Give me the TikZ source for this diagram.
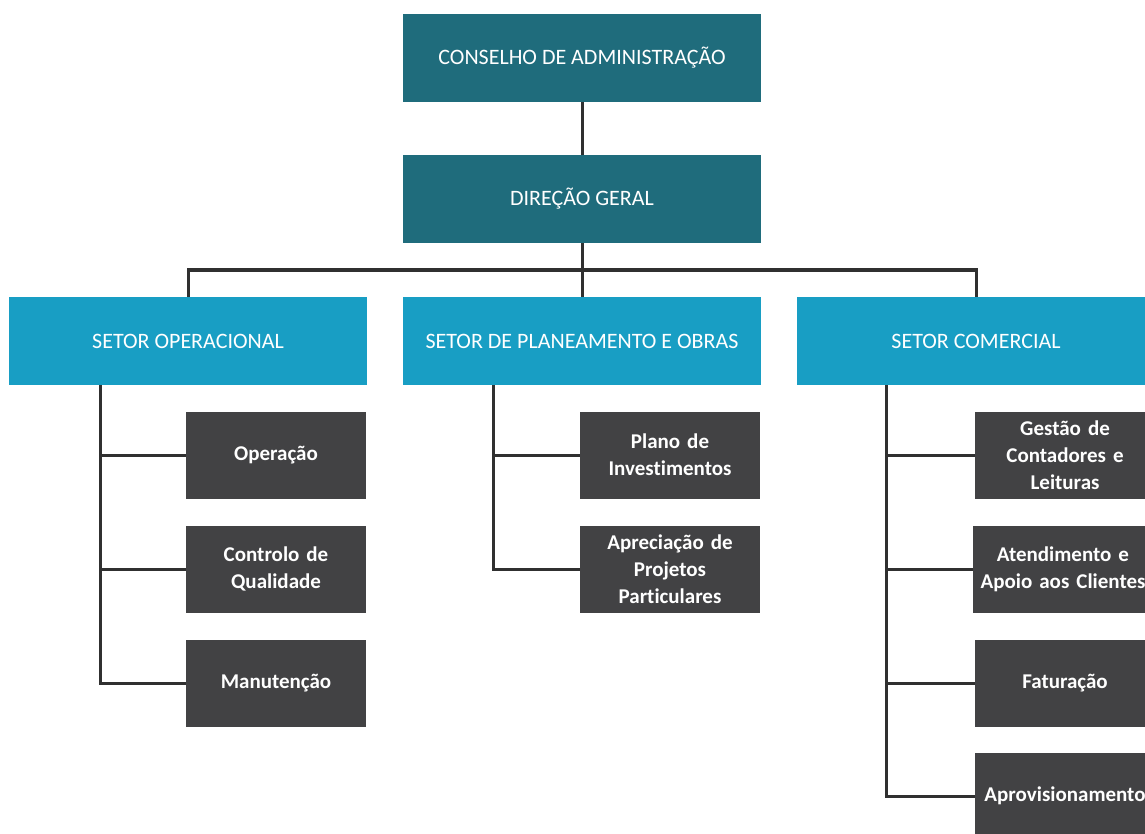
\documentclass[tikz,border=0pt]{standalone}
\usepackage{fontspec}
\setmainfont[Ligatures=NoCommon]{Carlito}
\usetikzlibrary{calc}
\definecolor{topTeal}{RGB}{31,108,124}
\definecolor{setorBlue}{RGB}{24,158,196}
\definecolor{subGray}{RGB}{66,66,68}
\definecolor{lineDark}{RGB}{48,48,48}
\tikzset{
  topbox/.style={fill=topTeal,text=white,minimum width=358pt,minimum height=88pt,
    inner sep=0pt,font=\fontsize{22}{27}\selectfont},
  setorbox/.style={topbox,fill=setorBlue},
  subbox/.style={fill=subGray,text=white,minimum width=180pt,minimum height=87pt,
    inner sep=0pt,text width=178pt,align=center,font=\fontsize{21}{27}\selectfont\bfseries},
  ligacao/.style={draw=lineDark,line width=3pt},
}

\begin{document}
\begin{tikzpicture}[x=1pt,y=-1pt]
                \clip (0,0) rectangle (1145,834);
                \fill[white] (0,0) rectangle (1145,834);
                % topo
                \node[topbox] (CA) at (582,58) {CONSELHO DE ADMINISTRAÇÃO};
                \node[topbox] (DG) at (582,199) {DIREÇÃO GERAL};
                % setores
                \node[setorbox] (SO) at (188,341) {SETOR OPERACIONAL};
                \node[setorbox] (SP) at (582,341) {SETOR DE PLANEAMENTO E OBRAS};
                \node[setorbox] (SC) at (976,341) {SETOR COMERCIAL};
                % setor operacional
                \node[subbox] (Op) at (276,455) {Operação};
                \node[subbox] (CQ) at (276,569) {Controlo de\\Qualidade};
                \node[subbox] (Mn) at (276,683) {Manutenção};
                % setor de planeamento e obras
                \node[subbox] (PI) at (670,455) {Plano de\\Investimentos};
                \node[subbox] (AP) at (670,569) {Apreciação de\\Projetos\\Particulares};
                % setor comercial
                \node[subbox] (GC) at (1065,455) {Gestão de\\Contadores e\\Leituras};
                \node[subbox] (AC) at (1063,569) {Atendimento e\\Apoio aos Clientes};
                \node[subbox] (Ft) at (1065,683) {Faturação};
                \node[subbox] (Ap) at (1065,796) {Aprovisionamento};
                % ligacoes
                \coordinate (bar) at (582,270);
                \coordinate (sO) at (100,385);
                \coordinate (sP) at (493,385);
                \coordinate (sC) at (886,385);
                \draw[ligacao] (CA.south) -- (DG.north);
                \draw[ligacao] (DG.south) -- (bar);
                \draw[ligacao] (SO.north) |- (bar) -| (SC.north);
                \draw[ligacao] (bar) -- (SP.north);
                \draw[ligacao] (sO) |- (Mn.west);
                \draw[ligacao] (sO |- Op.west) -- (Op.west);
                \draw[ligacao] (sO |- CQ.west) -- (CQ.west);
                \draw[ligacao] (sP) |- (AP.west);
                \draw[ligacao] (sP |- PI.west) -- (PI.west);
                \draw[ligacao] (sC) |- (Ap.west);
                \draw[ligacao] (sC |- GC.west) -- (GC.west);
                \draw[ligacao] (sC |- AC.west) -- (AC.west);
                \draw[ligacao] (sC |- Ft.west) -- (Ft.west);
            \end{tikzpicture}
\end{document}
